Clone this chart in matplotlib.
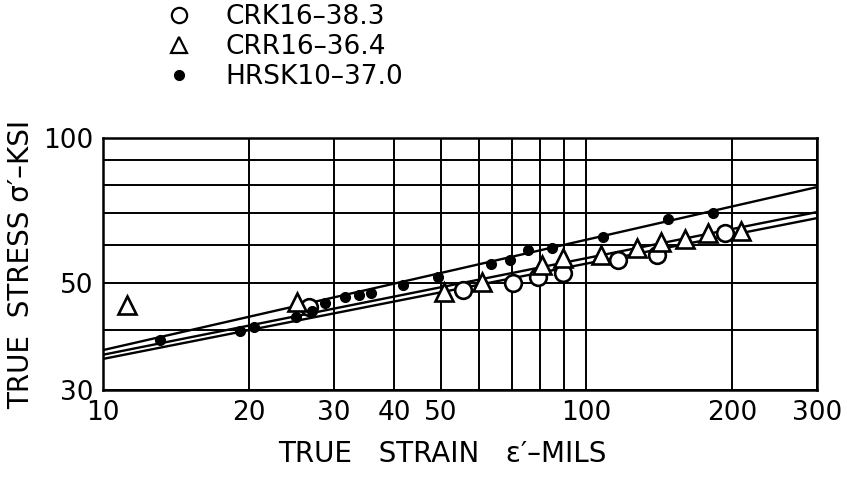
import matplotlib
matplotlib.use("Agg")
import matplotlib.pyplot as plt
from matplotlib.lines import Line2D

# HRSK10-37.0 (filled dots)
hrsk_x = [13.1, 19.2, 20.5, 25.1, 27.1, 28.8, 31.7, 33.8, 35.8, 41.8, 49.3,
          63.5, 69.5, 75.7, 84.9, 108.2, 147.5, 182.7]
hrsk_y = [38.1, 39.8, 40.5, 42.5, 43.8, 45.5, 46.8, 47.2, 47.7, 49.5, 51.5,
          54.8, 55.8, 58.6, 59.1, 62.3, 67.9, 69.9]

# CRR16-36.4 (triangles)
crr_x = [11.2, 25.2, 50.8, 60.8, 80.9, 89.4, 107.2, 127.2, 142.6, 159.9,
         178.5, 209.0]
crr_y = [45.0, 45.7, 47.9, 50.3, 54.5, 56.4, 57.2, 59.1, 60.8, 61.7,
         63.5, 64.1]

# CRK16-38.3 (open circles)
crk_x = [26.7, 55.5, 70.5, 79.4, 89.4, 116.3, 140.0, 193.5]
crk_y = [44.6, 48.4, 50.0, 51.5, 52.5, 55.8, 57.2, 63.5]

# fitted lines, end points read at x = 10 and x = 300
fit_x = [10, 300]
fit_hrsk = [36.3, 79.1]
fit_crr = [35.5, 70.2]
fit_crk = [34.8, 68.2]

x_ticks = [10, 20, 30, 40, 50, 60, 70, 80, 90, 100, 200, 300]
x_labels = ['10', '20', '30', '40', '50', '', '', '', '', '100', '200', '300']
y_ticks = [30, 40, 50, 60, 70, 80, 90, 100]
y_labels = ['30', '', '50', '', '', '', '', '100']

fig = plt.figure(figsize=(8.47, 4.87), dpi=100)
ax = fig.add_axes([0.1216, 0.1992, 0.843, 0.5174])

ax.set_xscale('log')
ax.set_yscale('log')
ax.set_xlim(10, 300)
ax.set_ylim(30, 100)

ax.set_xticks(x_ticks)
ax.set_xticklabels(x_labels)
ax.set_yticks(y_ticks)
ax.set_yticklabels(y_labels)
ax.minorticks_off()
ax.tick_params(length=0, labelsize=19, pad=7)
ax.grid(True, color='black', linewidth=1.4)
for s in ax.spines.values():
    s.set_linewidth(1.8)

ax.plot(fit_x, fit_hrsk, color='black', lw=1.7)
ax.plot(fit_x, fit_crr, color='black', lw=1.7)
ax.plot(fit_x, fit_crk, color='black', lw=1.7)

ax.plot(crk_x, crk_y, 'o', ms=12, mfc='white', mec='black', mew=1.9,
        zorder=3)
ax.plot(crr_x, crr_y, '^', ms=12.5, mfc='white', mec='black', mew=1.9,
        zorder=3)
ax.plot(hrsk_x, hrsk_y, 'o', ms=7, color='black', zorder=4)

ax.set_xlabel("TRUE   STRAIN   \u03b5\u2032\u2013MILS", fontsize=20,
              labelpad=12)
ax.xaxis.set_label_coords(0.475, -0.2)
ax.set_ylabel("TRUE  STRESS \u03c3\u2032\u2013KSI", fontsize=20,
              labelpad=6)

handles = [
    Line2D([], [], ls='none', marker='o', ms=11, mfc='white', mec='black',
           mew=1.6),
    Line2D([], [], ls='none', marker='^', ms=11, mfc='white', mec='black',
           mew=1.6),
    Line2D([], [], ls='none', marker='o', ms=7, color='black'),
]
labels = ['CRK16\u201338.3', 'CRR16\u201336.4', 'HRSK10\u201337.0']
fig.legend(handles, labels, loc='upper left',
           bbox_to_anchor=(0.16, 1.04), frameon=False, fontsize=19,
           handletextpad=1.0, labelspacing=0.15, handlelength=1.5)

fig.savefig('out.png', dpi=100)
